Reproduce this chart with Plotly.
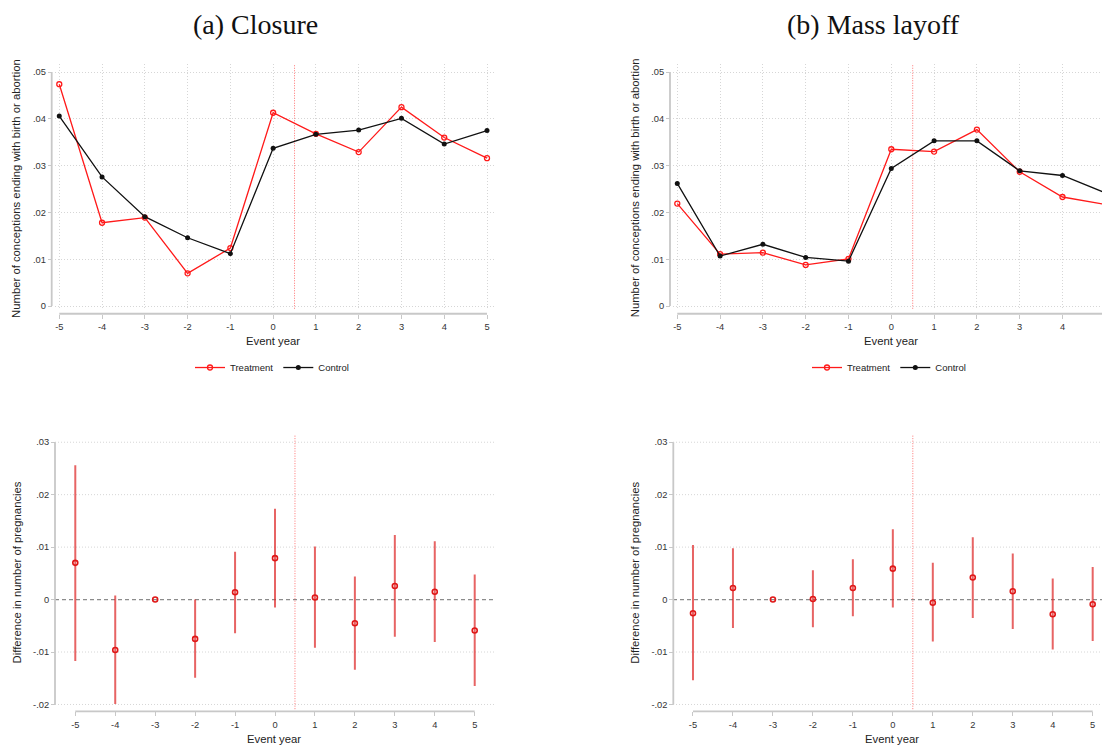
import plotly.graph_objects as go

W, H = 1102, 748

# ---------------- data ----------------
event_years = [-5, -4, -3, -2, -1, 0, 1, 2, 3, 4, 5]
x_tick_labels = ["-5", "-4", "-3", "-2", "-1", "0", "1", "2", "3", "4", "5"]

closure_treatment = [0.0474, 0.0178, 0.0189, 0.0070, 0.0124, 0.0413, 0.0368, 0.0329, 0.0425, 0.0360, 0.0316]
closure_control = [0.0406, 0.0276, 0.0191, 0.0146, 0.0112, 0.0337, 0.0367, 0.0376, 0.0401, 0.0346, 0.0375]

layoff_treatment = [0.0219, 0.0111, 0.0114, 0.0088, 0.0101, 0.0335, 0.0330, 0.0377, 0.0287, 0.0233, 0.0217]
layoff_control = [0.0262, 0.0107, 0.0132, 0.0104, 0.0096, 0.0294, 0.0353, 0.0353, 0.0289, 0.0279, 0.0242]

closure_diff = [0.0070, -0.0096, 0.0, -0.0075, 0.0014, 0.0079, 0.0004, -0.0045, 0.0026, 0.0015, -0.0059]
closure_ci_low = [-0.0117, -0.0199, 0.0, -0.0149, -0.0064, -0.0015, -0.0092, -0.0134, -0.0071, -0.0081, -0.0165]
closure_ci_high = [0.0256, 0.0008, 0.0, 0.0000, 0.0091, 0.0173, 0.0101, 0.0044, 0.0123, 0.0111, 0.0048]

layoff_diff = [-0.0026, 0.0022, 0.0, 0.0001, 0.0022, 0.0059, -0.0006, 0.0042, 0.0016, -0.0028, -0.0009]
layoff_ci_low = [-0.0154, -0.0054, 0.0, -0.0053, -0.0032, -0.0015, -0.0080, -0.0035, -0.0056, -0.0095, -0.0079]
layoff_ci_high = [0.0104, 0.0098, 0.0, 0.0056, 0.0077, 0.0134, 0.0070, 0.0119, 0.0088, 0.0040, 0.0062]

top_y_ticks = [0, 0.01, 0.02, 0.03, 0.04, 0.05]
top_y_labels = ["0", ".01", ".02", ".03", ".04", ".05"]
bottom_y_ticks = [-0.02, -0.01, 0, 0.01, 0.02, 0.03]
bottom_y_labels = ["-.02", "-.01", "0", ".01", ".02", ".03"]

panel_titles = ["(a) Closure", "(b) Mass layoff"]
top_y_title = "Number of conceptions ending with birth or abortion"
bottom_y_title = "Difference in number of pregnancies"
x_title = "Event year"
series_names = ["Treatment", "Control"]

# ---------------- styling helpers ----------------
def fx(px):
    return px / W

def fy(py):
    return 1 - py / H

RED = "#ff1a1a"
BLACK = "#111111"
AXIS_GREY = "#c8c8c8"
GRID = "#d6d6d6"
GRID_DASH = "1px,2px"
TICKFONT = dict(family="Liberation Sans, Arial, sans-serif", size=9.3, color="#333333")
TITLEFONT = dict(family="Liberation Sans, Arial, sans-serif", size=11.3, color="#222222")


def make_xaxis(px0, px1, rng, line_py, grid):
    return dict(domain=[fx(px0), fx(px1)], range=rng, anchor="free", position=fy(line_py),
                tickmode="array", tickvals=event_years, ticktext=x_tick_labels,
                ticks="outside", ticklen=4, tickwidth=1, tickcolor=AXIS_GREY,
                showline=False, zeroline=False, showgrid=grid, gridcolor=GRID,
                griddash=GRID_DASH, gridwidth=1, tickfont=TICKFONT, fixedrange=True)


def make_yaxis(py_top, py_bottom, rng, line_px, ticks, labels, grid):
    return dict(domain=[fy(py_bottom), fy(py_top)], range=rng, anchor="free", position=fx(line_px),
                tickmode="array", tickvals=ticks, ticktext=labels,
                ticks="outside", ticklen=4, tickwidth=1, tickcolor=AXIS_GREY,
                showline=False, zeroline=False, showgrid=grid, gridcolor=GRID,
                griddash=GRID_DASH, gridwidth=1, tickfont=TICKFONT, fixedrange=True)


fig = go.Figure()

# ---------------- top panels ----------------
top_sets = [
    ("x", "y", closure_treatment, closure_control, "legend"),
    ("x2", "y2", layoff_treatment, layoff_control, "legend2"),
]
for xa, ya, tr, ct, lg in top_sets:
    fig.add_trace(go.Scatter(
        x=event_years, y=tr, mode="lines+markers", name=series_names[0],
        line=dict(color=RED, width=1.3),
        marker=dict(symbol="circle-open", size=5, color=RED, line=dict(width=1.3, color=RED)),
        xaxis=xa, yaxis=ya, legend=lg, cliponaxis=True))
    fig.add_trace(go.Scatter(
        x=event_years, y=ct, mode="lines+markers", name=series_names[1],
        line=dict(color=BLACK, width=1.3),
        marker=dict(symbol="circle", size=5, color=BLACK),
        xaxis=xa, yaxis=ya, legend=lg, cliponaxis=True))

# ---------------- bottom panels ----------------
bottom_sets = [
    ("x3", "y3", closure_diff, closure_ci_low, closure_ci_high),
    ("x4", "y4", layoff_diff, layoff_ci_low, layoff_ci_high),
]
for xa, ya, d, lo, hi in bottom_sets:
    fig.add_trace(go.Scatter(
        x=event_years, y=d, mode="markers", showlegend=False,
        marker=dict(symbol="circle-open", size=5, color="#e01818", line=dict(width=1.6, color="#e01818")),
        error_y=dict(type="data", symmetric=False,
                     array=[h - v for h, v in zip(hi, d)],
                     arrayminus=[v - l for v, l in zip(d, lo)],
                     width=0, thickness=2, color="rgba(222,40,40,0.72)"),
        xaxis=xa, yaxis=ya))

# ---------------- axes ----------------
top_yrange = [-0.00057, 0.05177]
bot_yrange = [-0.02089, 0.03152]

fig.update_layout(
    xaxis=make_xaxis(55, 495, [-5.10, 5.187], 315, True),
    yaxis=make_yaxis(64, 310, top_yrange, 51.7, top_y_ticks, top_y_labels, True),
    xaxis2=make_xaxis(673, 1102, [-5.10, 4.923], 315, True),
    yaxis2=make_yaxis(64, 310, top_yrange, 670, top_y_ticks, top_y_labels, True),
    xaxis3=make_xaxis(55, 495, [-5.508, 5.508], 714.3, False),
    yaxis3=make_yaxis(436, 712, bot_yrange, 55, bottom_y_ticks, bottom_y_labels, False),
    xaxis4=make_xaxis(673, 1102, [-5.50, 5.233], 714.3, False),
    yaxis4=make_yaxis(436, 712, bot_yrange, 673.3, bottom_y_ticks, bottom_y_labels, False),
)

shapes = []
# bottom panels: horizontal grid at non-zero ticks (zero gets the dashed reference line)
for xa, ya in [("x3", "y3"), ("x4", "y4")]:
    for t in bottom_y_ticks:
        if t != 0:
            shapes.append(dict(type="line", xref=xa + " domain", yref=ya, x0=0, x1=1, y0=t, y1=t,
                               line=dict(color=GRID, width=1, dash=GRID_DASH), layer="below"))
    shapes.append(dict(type="line", xref=xa + " domain", yref=ya, x0=0, x1=1, y0=0, y1=0,
                       line=dict(color="#8c8c8c", width=1.2, dash="4px,3px"), layer="below"))

# axis lines (offset, Stata-like) and event line at 0.5
axis_specs = [
    ("x", "y", 51.7, 315, 0, 0.05),
    ("x2", "y2", 670, 315, 0, 0.05),
    ("x3", "y3", 55, 714.3, -0.02, 0.03),
    ("x4", "y4", 673.3, 714.3, -0.02, 0.03),
]
for xa, ya, ylx, xly, y0, y1 in axis_specs:
    shapes.append(dict(type="line", xref="paper", yref=ya, x0=fx(ylx), x1=fx(ylx), y0=y0, y1=y1,
                       line=dict(color=AXIS_GREY, width=1.8), layer="above"))
    shapes.append(dict(type="line", xref=xa, yref="paper", x0=-5, x1=5, y0=fy(xly), y1=fy(xly),
                       line=dict(color=AXIS_GREY, width=1.8), layer="above"))
    shapes.append(dict(type="line", xref=xa, yref=ya + " domain", x0=0.5, x1=0.5, y0=0, y1=1,
                       line=dict(color="rgba(255,80,80,0.8)", width=1, dash="1px,1.5px"), layer="below"))

annotations = []
# panel titles
for txt, cx in zip(panel_titles, [255.5, 873]):
    annotations.append(dict(text=txt, x=fx(cx), y=fy(25), xref="paper", yref="paper",
                            showarrow=False, xanchor="center", yanchor="middle",
                            font=dict(family="Liberation Serif, Times New Roman, serif", size=28, color="#111111")))
# x titles
for cx, cy in [(272.7, 342.7), (890.7, 342.7), (274, 742.0), (892.3, 742.0)]:
    annotations.append(dict(text=x_title, x=fx(cx), y=fy(cy), xref="paper", yref="paper",
                            showarrow=False, xanchor="center", yanchor="middle", font=TITLEFONT))
# y titles
for txt, cx, cy in [(top_y_title, 16.7, 189), (top_y_title, 635, 189),
                    (bottom_y_title, 16.7, 575), (bottom_y_title, 635, 575)]:
    annotations.append(dict(text=txt, x=fx(cx), y=fy(cy), xref="paper", yref="paper",
                            showarrow=False, xanchor="center", yanchor="middle",
                            textangle=-90, font=TITLEFONT))

legend_style = dict(orientation="h", yanchor="middle", xanchor="center",
                    font=dict(family="Liberation Sans, Arial, sans-serif", size=9.5, color="#222222"),
                    bgcolor="rgba(0,0,0,0)", itemwidth=30, tracegroupgap=0)

fig.update_layout(
    width=W, height=H,
    margin=dict(l=0, r=0, t=0, b=0),
    paper_bgcolor="white", plot_bgcolor="white",
    shapes=shapes, annotations=annotations,
    legend=dict(x=fx(272), y=fy(369), **legend_style),
    legend2=dict(x=fx(889), y=fy(369), **legend_style),
    showlegend=True,
)

fig.write_html("out.html", config={"displayModeBar": False},
               post_script="document.body.style.margin='0';document.body.style.overflow='hidden';")
